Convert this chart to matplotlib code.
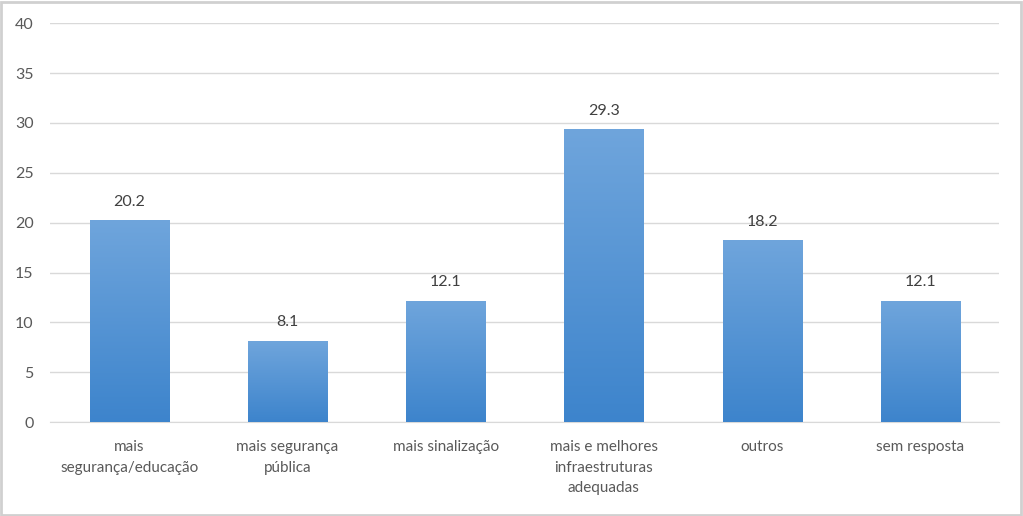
import numpy as np
import matplotlib
matplotlib.use("Agg")
import matplotlib.pyplot as plt
from matplotlib.colors import LinearSegmentedColormap
from matplotlib.patches import Rectangle

categories = ["mais\nsegurança/educação", "mais segurança\npública", "mais sinalização",
              "mais e melhores\ninfraestruturas\nadequadas", "outros", "sem resposta"]
values = [20.2, 8.1, 12.1, 29.3, 18.2, 12.1]
yticks = [0, 5, 10, 15, 20, 25, 30, 35, 40]

plt.rcParams['font.family'] = ['Lato', 'DejaVu Sans']
txt = '#595959'

fig = plt.figure(figsize=(10.23, 5.16), dpi=100)
ax = fig.add_axes([0.049, 0.182, 0.928, 0.773])

x = np.arange(len(values))
bars = ax.bar(x, values, width=0.5, color='none', zorder=3)

# vertical gradient fill, lighter at the top
cmap = LinearSegmentedColormap.from_list('barblue', ['#3d84cc', '#6fa5dc'])
grad = np.linspace(0, 1, 256).reshape(-1, 1)
for b in bars:
    x0, y0 = b.get_x(), b.get_y()
    w, h = b.get_width(), b.get_height()
    ax.imshow(grad, cmap=cmap, origin='lower', aspect='auto',
              extent=[x0, x0 + w, y0, y0 + h], zorder=3)
    ax.text(x0 + w / 2, h + 1.2, f"{h:.1f}", ha='center', va='bottom',
            fontsize=11.5, color='#404040', zorder=4)

ax.set_xlim(-0.5, len(values) - 0.5)
ax.set_ylim(0, 40)
ax.set_yticks(yticks)
ax.set_xticks(x)
ax.set_xticklabels(categories, fontsize=11, color=txt, linespacing=1.6)
ax.tick_params(axis='y', labelsize=11.5, colors=txt, length=0, pad=12)
ax.tick_params(axis='x', length=0, pad=13)
ax.grid(axis='y', color='#d9d9d9', linewidth=1, zorder=0)
ax.set_axisbelow(True)
for s in ['top', 'right', 'left']:
    ax.spines[s].set_visible(False)
ax.spines['bottom'].set_color('#d9d9d9')

fig.patches.append(Rectangle((0.001, 0.002), 0.997, 0.995, transform=fig.transFigure,
                             fill=False, edgecolor='#d0d0d0', linewidth=2))

fig.savefig("out.png", dpi=100)
